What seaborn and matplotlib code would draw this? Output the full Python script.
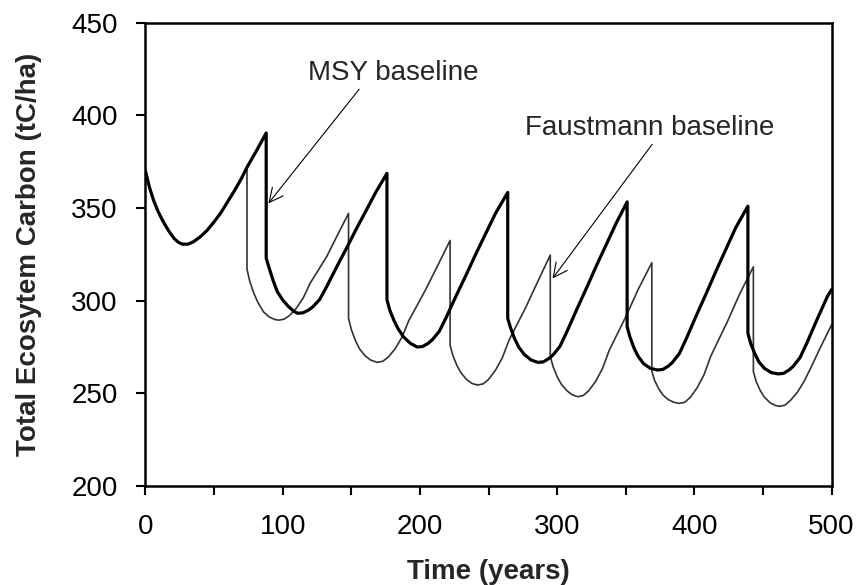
import matplotlib.pyplot as plt
import seaborn as sns

# MSY baseline (thick line): years and total ecosystem carbon (tC/ha)
msy_years = [0, 3, 6, 9, 12, 15, 18, 21, 24, 27, 31, 35, 40, 45, 50, 55, 60, 65, 70, 74, 81, 88,
             88, 90, 93, 96, 100, 104, 108, 111, 115, 119, 122, 127, 132, 139, 147, 154, 161, 168, 176,
             176, 178, 181, 184, 188, 193, 198, 202, 206, 209, 214, 219, 226, 234, 241, 248, 255, 264,
             264, 266, 269, 272, 276, 281, 286, 290, 294, 297, 302, 307, 314, 322, 329, 336, 343, 351,
             351, 353, 356, 359, 363, 368, 373, 377, 381, 384, 389, 394, 401, 409, 416, 423, 430, 439,
             439, 441, 444, 447, 451, 456, 461, 465, 469, 472, 477, 482, 489, 497, 500]
msy_carbon = [370, 361, 354, 348.5, 344, 340, 336.5, 333.5, 331.5, 330.5, 330.5, 331.8, 334.5, 338,
              342.5, 347.5, 353.5, 359.5, 366, 372, 381, 390.5,
              322.9, 318, 311, 305, 300.4, 297, 294.3, 293.2, 293.5, 295, 296.7, 300.7, 307.5, 317.7,
              329, 339.2, 348.9, 358.7, 368.7,
              300.5, 295, 289.5, 285, 280.5, 277, 275, 275.3, 277, 278.9, 283.3, 290.7, 302, 314.4,
              325.6, 336.3, 347, 358.4,
              290.4, 285.5, 279.5, 275, 271, 268, 266.7, 267, 268.8, 270.7, 275.3, 283.1, 294.8, 307.8,
              319.5, 330.6, 341.8, 353.3,
              286, 280.5, 274.5, 270, 266, 263.5, 262.6, 262.9, 264.7, 266.7, 271.4, 279.3, 291.3,
              304.5, 316.4, 327.8, 339.2, 351,
              282.5, 277, 271.5, 267, 263.5, 261.2, 260.5, 260.8, 262.6, 264.6, 269.3, 277.2, 289.2,
              302.4, 306]

# Faustmann baseline (thin line)
faust_years = [0, 3, 6, 9, 12, 15, 18, 21, 24, 27, 31, 35, 40, 45, 50, 55, 60, 65, 70, 74,
               74, 76, 79, 82, 86, 90, 94, 97, 101, 105, 110, 115, 120, 126, 132, 140, 148,
               148, 150, 153, 156, 160, 164, 169, 173, 177, 182, 187, 192, 198, 204, 213, 222,
               222, 224, 227, 230, 234, 238, 242, 246, 250, 255, 260, 265, 271, 277, 286, 295,
               295, 297, 300, 303, 307, 311, 315, 319, 323, 328, 333, 338, 344, 350, 359, 369,
               369, 371, 374, 377, 381, 385, 389, 393, 397, 402, 407, 412, 418, 424, 433, 443,
               443, 445, 448, 451, 455, 459, 462, 466, 470, 475, 480, 485, 491, 497, 500]
faust_carbon = [370, 361, 354, 348.5, 344, 340, 336.5, 333.5, 331.5, 330.5, 330.5, 331.8, 334.5, 338,
                342.5, 347.5, 353.5, 359.5, 366, 372,
                317, 310.5, 304, 299, 294, 291.3, 289.9, 289.5, 290, 292, 296, 301.5, 309.4, 316.5,
                323.7, 335.5, 347.1,
                290.5, 284.5, 278.5, 274, 270.3, 268, 266.7, 267.3, 269.6, 274.1, 280.4, 289.4, 297.5,
                305.7, 319, 332.5,
                276, 270.5, 265, 261, 257.5, 255.3, 254.5, 255.1, 257.5, 262.4, 269.1, 278.8, 287.5,
                296.2, 310.5, 324.6,
                270, 264.5, 259, 255, 251.5, 249.2, 248.2, 248.8, 251.4, 256.4, 263.3, 273.3, 282.3,
                291.3, 306, 320.5,
                262, 257, 252.5, 249.2, 246.6, 245.2, 244.6, 245.2, 247.8, 253, 260, 270.1, 279.4,
                288.6, 303.6, 318.3,
                261.7, 256.5, 251.5, 248, 245, 243.5, 243, 243.6, 246.2, 250.5, 256.5, 264, 273.5,
                282.5, 287]

sns.set_style("ticks")
plt.rcParams["font.family"] = ["Liberation Sans", "DejaVu Sans"]

fig, ax = plt.subplots(figsize=(8.56, 5.85), dpi=100)
fig.subplots_adjust(left=0.1699, right=0.9715, bottom=0.1692, top=0.9612)

# Thin Faustmann line first, thick MSY line on top
sns.lineplot(x=faust_years, y=faust_carbon, sort=False, estimator=None,
             color="#333333", linewidth=1.2, ax=ax)
sns.lineplot(x=msy_years, y=msy_carbon, sort=False, estimator=None,
             color="black", linewidth=2.3, ax=ax)

ax.set_xlim(0, 500)
ax.set_ylim(200, 450)
ax.set_xticks(range(0, 501, 100))
ax.set_xticks(range(0, 501, 50), minor=True)
ax.set_yticks(range(200, 451, 50))
ax.tick_params(which="both", direction="out", length=6.5, width=1.5,
               colors="black", labelsize=20, pad=13.5, bottom=True, left=True)
for spine in ax.spines.values():
    spine.set_visible(True)
    spine.set_color("black")
    spine.set_linewidth(1.8)

ax.set_xlabel("Time (years)", fontsize=20, fontweight="bold", labelpad=14)
ax.set_ylabel("Total Ecosytem Carbon (tC/ha)", fontsize=20, fontweight="bold", labelpad=21)

# Labels with arrows
arrow = dict(arrowstyle="->,head_length=0.5,head_width=0.25", lw=0.8, color="black",
             shrinkA=0, shrinkB=0)
ax.annotate("MSY baseline", xy=(89.6, 352.5), xytext=(180.6, 419.1),
            ha="center", va="baseline", fontsize=20,
            arrowprops=dict(arrow, relpos=(0.315, 0)))
ax.annotate("Faustmann baseline", xy=(296.7, 312), xytext=(367.4, 389.4),
            ha="center", va="baseline", fontsize=20,
            arrowprops=dict(arrow, relpos=(0.52, 0)))

plt.savefig("out.png", dpi=100)
